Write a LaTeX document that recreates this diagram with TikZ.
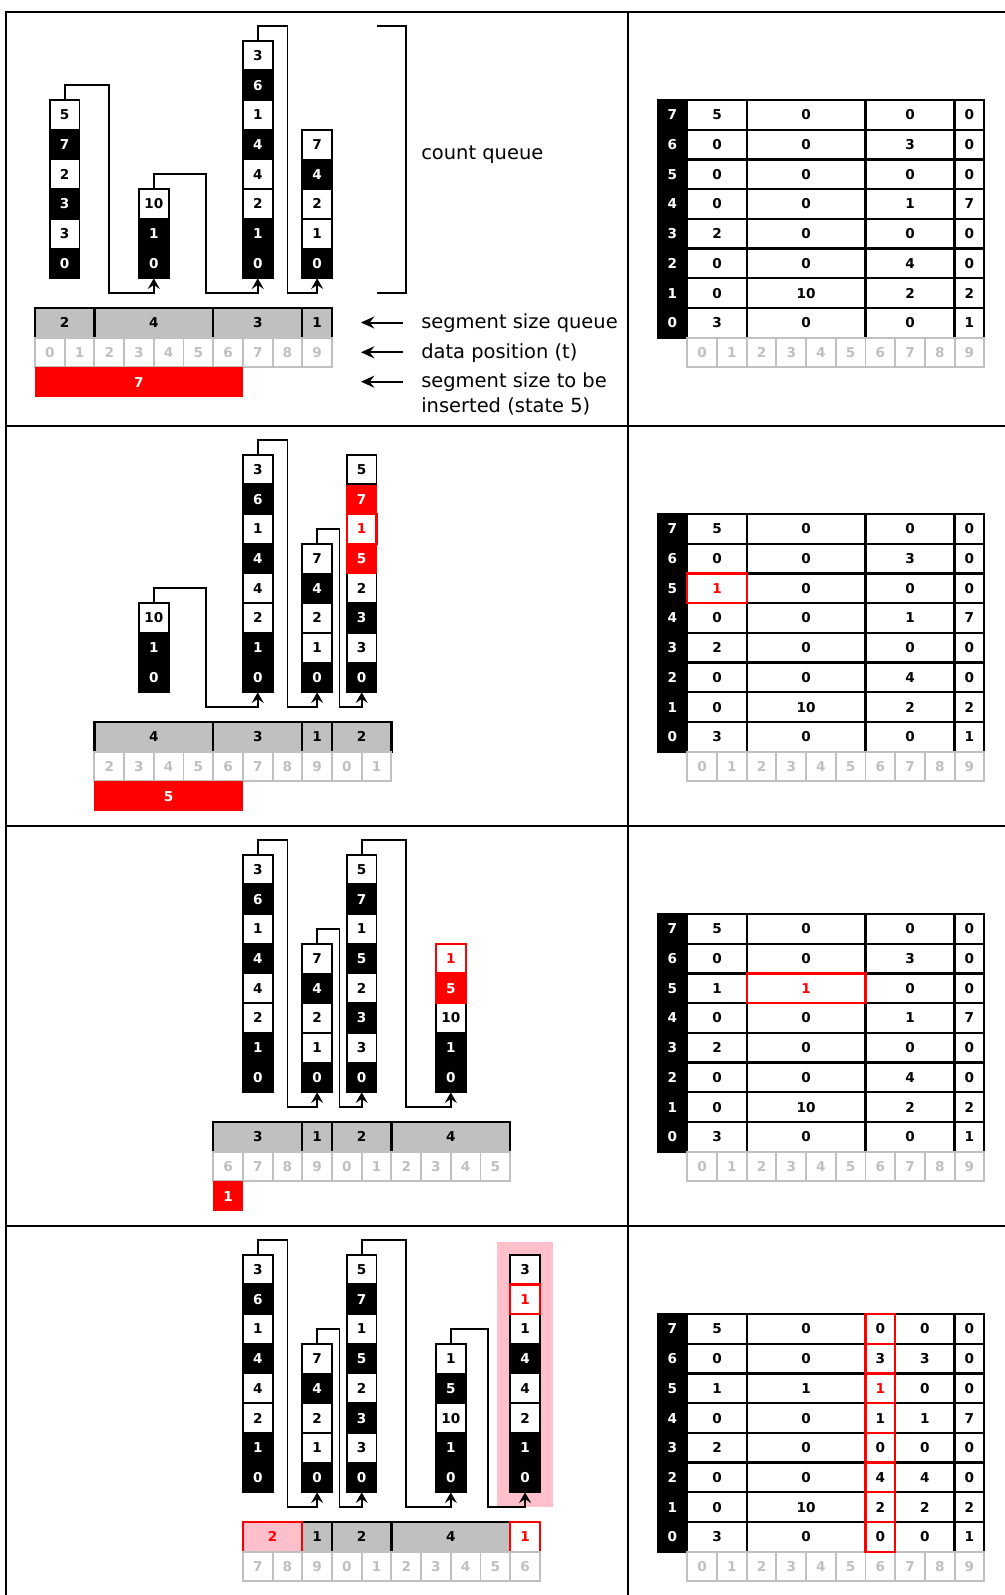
\documentclass[tikz,border=0pt]{standalone}
\usepackage{fontspec}
\setmainfont{DejaVu Sans}
\usetikzlibrary{arrows.meta}
\definecolor{qgray}{HTML}{C0C0C0}
\definecolor{pinkc}{HTML}{FFC0CB}
\newcommand\cellfont{\bfseries\fontsize{10.2}{11}\selectfont}
\newcommand\lblfont{\fontsize{14.6}{18}\selectfont}
\newcommand\rtxt[1]{\textcolor{red}{#1}}
\def\U{29.7}
% stack: name, center (cells), B, list style/text bottom->top
\newcommand\stk[4]{\foreach \sty/\val [count=\ii from 0] in {#4}{\node[\sty] (#1-\ii) at (35+#2*\U, #3-1.5*\U-\ii*\U) {\val};}}
% link: src, dst, mid x (cells), B
\newcommand\link[4]{\draw[conn] (#1.north) -- ++(0,-14.85) -| (35+#3*\U, #4-14.85) -| (#2.south);}
% queue cell: name, k, n, text, B, style
\newcommand\qn[6]{\node[#6,minimum width=#3*22.275pt] (#1) at (35+#2*\U+#3*\U/2, #5+\U/2) {#4};}
\newcommand\rbarn[4]{\node[rbar,minimum width=#3*22.275pt] (#1) at (35+#2*\U+#3*\U/2, #4+2.5*\U) {#3};}
\newcommand\drow[3]{\foreach \kk in {0,...,9}{\pgfmathtruncatemacro\lab{mod(#2+\kk,10)}\node[dc] (#1-\kk) at (35+#2*\U+\kk*\U+\U/2, #3+1.5*\U) {\lab};}}
\newcommand\tcol[5]{\foreach \val [count=\rr from 0] in {#5}{\node[tc,minimum width=#3*22.275pt] (#1-\rr) at (687.3+#2*\U+#3*\U/2, #4-\rr*\U+\U/2) {\val};}}
\newcommand\tlab[2]{\foreach \rr in {0,...,7}{\node[bc] (#1-\rr) at (687.3-\U/2, #2-\rr*\U+\U/2) {\rr};}}
\newcommand\tidx[2]{\foreach \kk in {0,...,9}{\node[dc] (#1-\kk) at (687.3+\kk*\U+\U/2, #2+1.5*\U) {\kk};}}
\newcommand\redbox[1]{\draw[redline] (#1.south west) rectangle (#1.north east);}
\begin{document}
\begin{tikzpicture}[x=0.75pt,y=-0.75pt,
 cellbase/.style={rectangle,minimum width=22.275pt,minimum height=22.275pt,inner sep=0pt,outer sep=0pt,font=\cellfont,text height=7.4pt,text depth=0pt,line width=1.4pt},
 wc/.style={cellbase,fill=white,draw=black,text=black},
 bc/.style={cellbase,fill=black,draw=black,text=white},
 rc/.style={cellbase,fill=red,draw=red,text=white},
 rw/.style={cellbase,fill=white,draw=black,text=red},
 qc/.style={cellbase,fill=qgray,draw=black,line width=1.7pt},
 qp/.style={cellbase,fill=pinkc,draw=black,line width=1.7pt},
 qw/.style={cellbase,fill=white,draw=black,line width=1.7pt},
 dc/.style={cellbase,fill=white,draw=qgray,text=qgray},
 tc/.style={cellbase,fill=white,draw=black,line width=1.7pt},
 rbar/.style={cellbase,fill=red,text=white},
 conn/.style={line width=1.3pt,-{Stealth[length=8pt,width=9pt,inset=3pt]}},
 larrow/.style={line width=1.5pt,-{Stealth[length=10pt,width=9pt,inset=3.5pt]}},
 frame/.style={line width=1.7pt},
 lbl/.style={font=\lblfont,anchor=base west,inner sep=0pt},
 redline/.style={draw=red,line width=1.7pt}]
\useasboundingbox (0,0) rectangle (1005,1595);
% frame
\draw[frame] (5.7,1595) -- (5.7,12) -- (1005,12);
\draw[frame] (628.3,12) -- (628.3,1595);
\draw[frame] (5.7,426) -- (1005,426);
\draw[frame] (5.7,826) -- (1005,826);
\draw[frame] (5.7,1226) -- (1005,1226);

% ================= panel 1 =================
\stk{p1a}{1}{308}{bc/0,wc/3,bc/3,wc/2,bc/7,wc/5}
\stk{p1b}{4}{308}{bc/0,bc/1,wc/10}
\stk{p1c}{7.5}{308}{bc/0,bc/1,wc/2,wc/4,bc/4,wc/1,bc/6,wc/3}
\stk{p1d}{9.5}{308}{bc/0,wc/1,wc/2,bc/4,wc/7}
\link{p1a-5}{p1b-0}{2.5}{308}
\link{p1b-2}{p1c-0}{5.75}{308}
\link{p1c-7}{p1d-0}{8.5}{308}
\qn{p1q1}{0}{2}{2}{308}{qc}
\qn{p1q2}{2}{4}{4}{308}{qc}
\qn{p1q3}{6}{3}{3}{308}{qc}
\qn{p1q4}{9}{1}{1}{308}{qc}
\drow{p1t}{0}{308}
\rbarn{p1r}{0}{7}{308}
\draw[line width=1.3pt] (376.7,25.85) -- (406,25.85) -- (406,293.15) -- (376.7,293.15);
\node[lbl] (cq) at (421,159) {count queue};
\node[lbl] (sq) at (421,328.2) {segment size queue};
\node[lbl] (dp) at (421,358) {data position (t)};
\node[lbl] (ss) at (421,387.4) {segment size to be};
\node[lbl] (ins) at (421,412.8) {inserted (state 5)};
\draw[larrow] (sq.base west) ++(-18,-5.7) -- ++(-42,0);
\draw[larrow] (dp.base west) ++(-18,-5.7) -- ++(-42,0);
\draw[larrow] (ss.base west) ++(-18,-5.7) -- ++(-42,0);
\tcol{p1ta}{0}{2}{308}{3,0,0,2,0,0,0,5}
\tcol{p1tb}{2}{4}{308}{0,10,0,0,0,0,0,0}
\tcol{p1tc}{6}{3}{308}{0,2,4,0,1,0,3,0}
\tcol{p1td}{9}{1}{308}{1,2,0,0,7,0,0,0}
\tlab{p1tl}{308}
\tidx{p1ti}{308}

% ================= panel 2 =================
\stk{p2b}{4}{722}{bc/0,bc/1,wc/10}
\stk{p2c}{7.5}{722}{bc/0,bc/1,wc/2,wc/4,bc/4,wc/1,bc/6,wc/3}
\stk{p2d}{9.5}{722}{bc/0,wc/1,wc/2,bc/4,wc/7}
\stk{p2e}{11}{722}{bc/0,wc/3,bc/3,wc/2,rc/5,rw/1,rc/7,wc/5}
\redbox{p2e-5}
\link{p2b-2}{p2c-0}{5.75}{722}
\link{p2c-7}{p2d-0}{8.5}{722}
\link{p2d-4}{p2e-0}{10.25}{722}
\qn{p2q1}{2}{4}{4}{722}{qc}
\qn{p2q2}{6}{3}{3}{722}{qc}
\qn{p2q3}{9}{1}{1}{722}{qc}
\qn{p2q4}{10}{2}{2}{722}{qc}
\drow{p2t}{2}{722}
\rbarn{p2r}{2}{5}{722}
\tcol{p2ta}{0}{2}{722}{3,0,0,2,0,{\rtxt{1}},0,5}
\tcol{p2tb}{2}{4}{722}{0,10,0,0,0,0,0,0}
\tcol{p2tc}{6}{3}{722}{0,2,4,0,1,0,3,0}
\tcol{p2td}{9}{1}{722}{1,2,0,0,7,0,0,0}
\tlab{p2tl}{722}
\tidx{p2ti}{722}
\redbox{p2ta-5}

% ================= panel 3 =================
\stk{p3c}{7.5}{1122}{bc/0,bc/1,wc/2,wc/4,bc/4,wc/1,bc/6,wc/3}
\stk{p3d}{9.5}{1122}{bc/0,wc/1,wc/2,bc/4,wc/7}
\stk{p3e}{11}{1122}{bc/0,wc/3,bc/3,wc/2,bc/5,wc/1,bc/7,wc/5}
\stk{p3f}{14}{1122}{bc/0,bc/1,wc/10,rc/5,rw/1}
\redbox{p3f-4}
\link{p3c-7}{p3d-0}{8.5}{1122}
\link{p3d-4}{p3e-0}{10.25}{1122}
\link{p3e-7}{p3f-0}{12.5}{1122}
\qn{p3q1}{6}{3}{3}{1122}{qc}
\qn{p3q2}{9}{1}{1}{1122}{qc}
\qn{p3q3}{10}{2}{2}{1122}{qc}
\qn{p3q4}{12}{4}{4}{1122}{qc}
\drow{p3t}{6}{1122}
\rbarn{p3r}{6}{1}{1122}
\tcol{p3ta}{0}{2}{1122}{3,0,0,2,0,1,0,5}
\tcol{p3tb}{2}{4}{1122}{0,10,0,0,0,{\rtxt{1}},0,0}
\tcol{p3tc}{6}{3}{1122}{0,2,4,0,1,0,3,0}
\tcol{p3td}{9}{1}{1122}{1,2,0,0,7,0,0,0}
\tlab{p3tl}{1122}
\tidx{p3ti}{1122}
\redbox{p3tb-5}

% ================= panel 4 =================
\fill[pinkc] (35+16.5*\U-28.4, 1522-9*\U-12.3) rectangle (35+16.5*\U+27.6, 1522-14.85);
\stk{p4c}{7.5}{1522}{bc/0,bc/1,wc/2,wc/4,bc/4,wc/1,bc/6,wc/3}
\stk{p4d}{9.5}{1522}{bc/0,wc/1,wc/2,bc/4,wc/7}
\stk{p4e}{11}{1522}{bc/0,wc/3,bc/3,wc/2,bc/5,wc/1,bc/7,wc/5}
\stk{p4f}{14}{1522}{bc/0,bc/1,wc/10,bc/5,wc/1}
\stk{p4g}{16.5}{1522}{bc/0,bc/1,wc/2,wc/4,bc/4,wc/1,rw/1,wc/3}
\redbox{p4g-6}
\link{p4c-7}{p4d-0}{8.5}{1522}
\link{p4d-4}{p4e-0}{10.25}{1522}
\link{p4e-7}{p4f-0}{12.5}{1522}
\link{p4f-4}{p4g-0}{15.25}{1522}
\qn{p4q1}{7}{2}{\rtxt{2}}{1522}{qp}
\qn{p4q2}{9}{1}{1}{1522}{qc}
\qn{p4q3}{10}{2}{2}{1522}{qc}
\qn{p4q4}{12}{4}{4}{1522}{qc}
\qn{p4q5}{16}{1}{\rtxt{1}}{1522}{qw}
\redbox{p4q1}
\redbox{p4q5}
\drow{p4t}{7}{1522}
\tcol{p4ta}{0}{2}{1522}{3,0,0,2,0,1,0,5}
\tcol{p4tb}{2}{4}{1522}{0,10,0,0,0,1,0,0}
\tcol{p4te}{7}{2}{1522}{0,2,4,0,1,0,3,0}
\tcol{p4td}{9}{1}{1522}{1,2,0,0,7,0,0,0}
\tcol{p4tc}{6}{1}{1522}{0,2,4,0,1,{\rtxt{1}},3,0}
\tlab{p4tl}{1522}
\tidx{p4ti}{1522}
\foreach \rr in {0,...,7}{\redbox{p4tc-\rr}}
\end{tikzpicture}
\end{document}
